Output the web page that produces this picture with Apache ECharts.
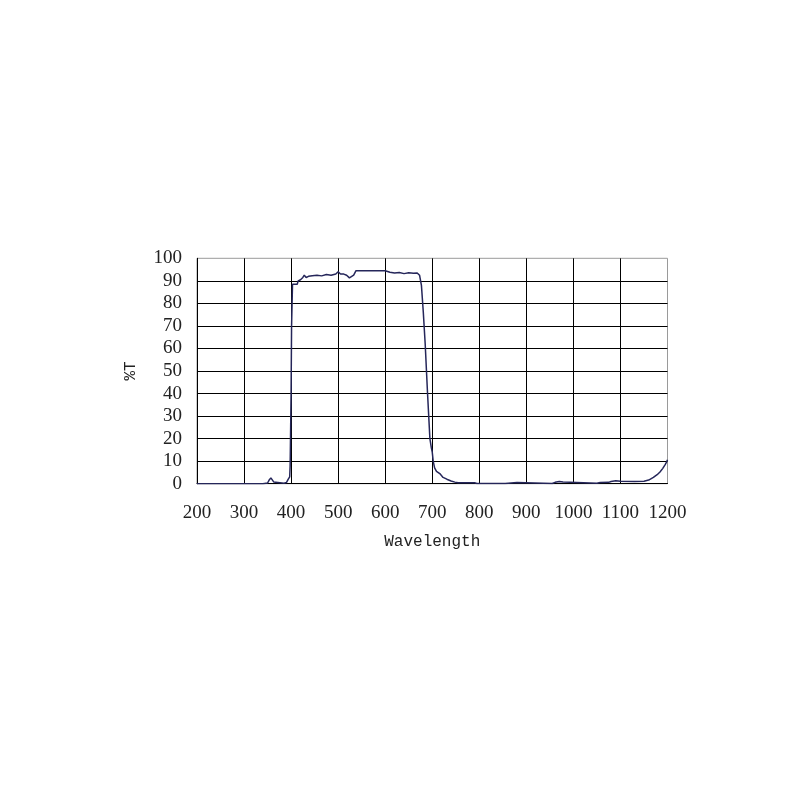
<!DOCTYPE html>
<html>
<head>
<meta charset="utf-8">
<script src="https://cdn.jsdelivr.net/npm/echarts@6/dist/echarts.min.js"></script>
<style>html,body{margin:0;padding:0;background:#fff}#c{width:800px;height:800px}</style>
</head>
<body>
<div id="c"></div>
<script>
var xTicks = [200, 300, 400, 500, 600, 700, 800, 900, 1000, 1100, 1200];
var yTicks = [0, 10, 20, 30, 40, 50, 60, 70, 80, 90, 100];
var wavelength = [200,340,350,353,357,360,363,366,385,390,394,397,398,400,401,403,413,415,420,425,428,432,437,445,455,465,475,485,495,500,505,512,518,524,528,533,538,560,580,600,610,620,630,640,650,660,668,673,677,681,685,690,695,698,700,702,705,709,716,723,731,740,748,755,790,795,855,858,880,883,955,961,970,978,982,1050,1057,1075,1080,1090,1100,1130,1150,1160,1170,1178,1184,1190,1195,1198,1200];
var transmittance = [0,0,0.3,1.5,2.6,2.2,0.8,0.2,0.2,0.5,2,3,8,40,70,88.5,88.5,90,90.5,91.5,92.5,91.5,92,92.3,92.5,92.2,92.8,92.5,93,94,93,93,92.5,91.3,91,92.5,94.5,94.5,94.5,94.5,93.8,93.5,93.7,93.2,93.6,93.4,93.5,92.5,88,76,62,40,20,16,14,10,7,5.5,4.5,2.8,2,1.2,0.7,0.4,0.4,0.1,0.1,0.5,0.5,0.1,0.1,0.6,1,0.8,0.2,0.2,0.5,0.6,1,1.3,1.1,1,1.1,1.6,2.8,4,5.2,6.8,8.5,9.6,10.6];
var xName = 'Wavelength';
var yName = '%T';

var data = wavelength.map(function (w, i) { return [w, transmittance[i]]; });
var chart = echarts.init(document.getElementById('c'));
chart.setOption({
  animation: false,
  backgroundColor: '#fff',
  grid: { left: 197, right: 132.5, top: 258.3, bottom: 316.3, show: true, borderColor: '#9a9a9a', borderWidth: 1, backgroundColor: 'transparent' },
  xAxis: {
    type: 'value', min: xTicks[0], max: xTicks[xTicks.length - 1], interval: 100,
    name: xName, nameLocation: 'middle', nameGap: 50,
    nameTextStyle: { fontFamily: 'Liberation Mono', fontSize: 16, color: '#222' },
    axisLine: { show: true, lineStyle: { color: '#000', width: 1 } },
    axisTick: { show: false },
    axisLabel: { fontFamily: 'Liberation Serif', fontSize: 19, color: '#222', margin: 20, formatter: function (v) { return String(v); } },
    splitLine: { show: true, showMinLine: false, showMaxLine: false, lineStyle: { color: '#000', width: 1 } }
  },
  yAxis: {
    type: 'value', min: yTicks[0], max: yTicks[yTicks.length - 1], interval: 10,
    name: yName, nameLocation: 'middle', nameGap: 58, nameRotate: 90,
    nameTextStyle: { fontFamily: 'Liberation Mono', fontSize: 16, color: '#222' },
    axisLine: { show: true, lineStyle: { color: '#000', width: 1 } },
    axisTick: { show: false },
    axisLabel: { fontFamily: 'Liberation Serif', fontSize: 19, color: '#222', margin: 15, formatter: function (v) { return String(v); } },
    splitLine: { show: true, showMinLine: false, showMaxLine: false, lineStyle: { color: '#000', width: 1 } }
  },
  series: [{
    type: 'line', data: data, showSymbol: false, symbol: 'none',
    lineStyle: { color: '#25265a', width: 1.5 }
  }]
});
</script>
</body>
</html>
